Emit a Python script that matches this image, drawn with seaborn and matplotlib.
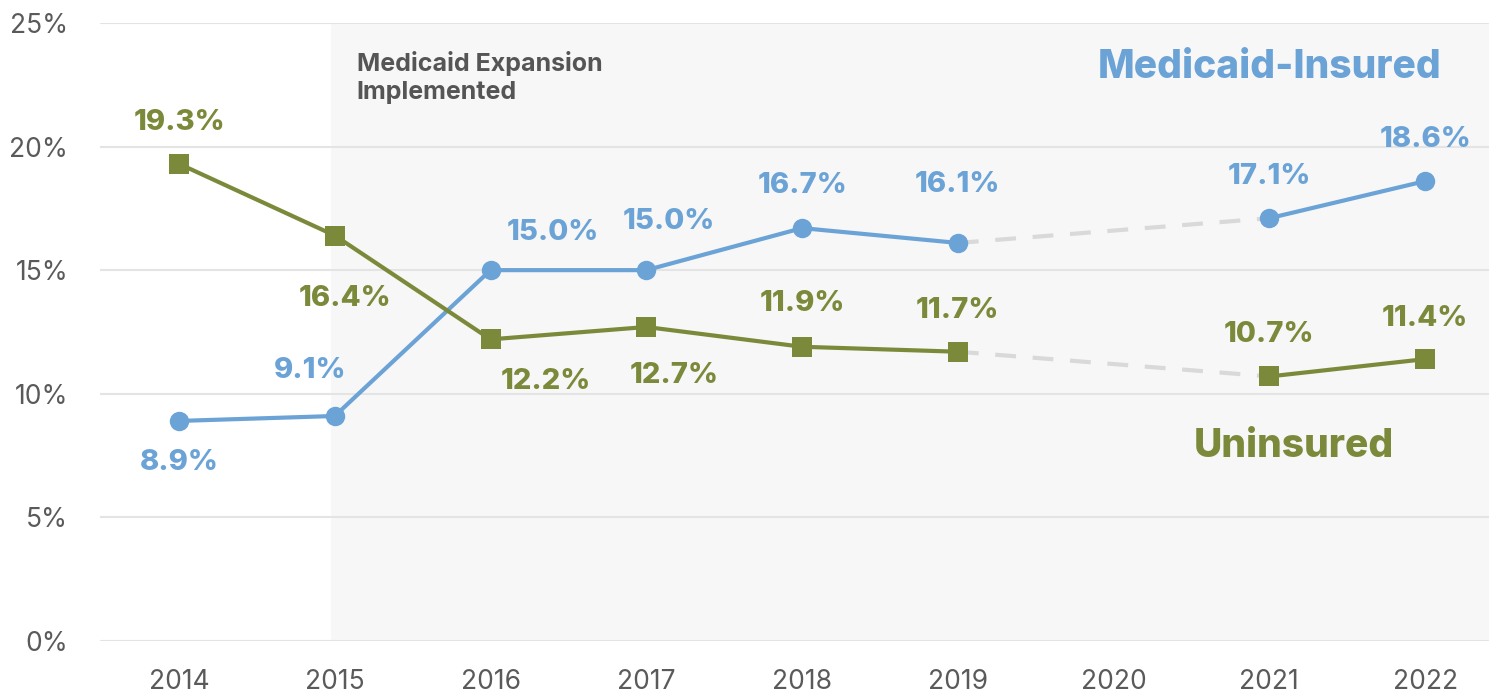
import pandas as pd
import numpy as np
import matplotlib.pyplot as plt
import seaborn as sns

# ==========================================
# Data
# ==========================================
years = ['2014', '2015', '2016', '2017', '2018', '2019', '2020', '2021', '2022']
medicaid = [8.9, 9.1, 15.0, 15.0, 16.7, 16.1, np.nan, 17.1, 18.6]
uninsured = [19.3, 16.4, 12.2, 12.7, 11.9, 11.7, np.nan, 10.7, 11.4]

BLUE = '#6CA3D7'
GREEN = '#7B8A3A'
GRAY_TXT = '#555555'

sns.set_style('white')
plt.rcParams['font.family'] = ['Inter', 'DejaVu Sans']

# long table: one row per point, segment id splits lines at the 2020 gap
rows = []
for name, vals in [('Medicaid-Insured', medicaid), ('Uninsured', uninsured)]:
    for i, v in enumerate(vals):
        if np.isnan(v):
            continue
        rows.append({'pos': i, 'value': v, 'series': name, 'seg': 0 if i < 6 else 1})
df = pd.DataFrame(rows)

# dashed connector across the missing year
bridge = df[df['pos'].isin([5, 7])]

fig = plt.figure(figsize=(14.89, 6.94), dpi=100)
ax = fig.add_axes([0.0672, 0.0764, 0.9328, 0.8906])

ax.axvspan(0.975, 8.6, color='#F7F7F7', zorder=0, lw=0)

sns.lineplot(data=bridge, x='pos', y='value', units='series', estimator=None,
             color='#D9D9D9', lw=3, ax=ax, zorder=1, legend=False)
ax.lines[-1].set_dashes([5, 4])
ax.lines[-2].set_dashes([5, 4])

sns.lineplot(data=df, x='pos', y='value', hue='series', style='series', units='seg',
             estimator=None, markers={'Medicaid-Insured': 'o', 'Uninsured': 's'},
             dashes=False, palette={'Medicaid-Insured': BLUE, 'Uninsured': GREEN},
             lw=3, markersize=14, markeredgewidth=0, ax=ax, zorder=3, legend=False)

# data labels (offsets in points)
med_off = [(0, -30), (-18, 33), (45, 27), (16, 35), (0, 31), (0, 42), None, (0, 30), (0, 30)]
uni_off = [(0, 30), (7, -45), (40, -30), (20, -35), (0, 31), (0, 30), None, (0, 30), (0, 29)]
for vals, offs, col in [(medicaid, med_off, BLUE), (uninsured, uni_off, GREEN)]:
    for i, (v, o) in enumerate(zip(vals, offs)):
        if o is None:
            continue
        ax.annotate(f'{v:.1f}%', (i, v), xytext=o, textcoords='offset points',
                    ha='center', va='center', fontsize=21, fontweight='heavy', color=col)

ax.text(1.14, 22.8, 'Medicaid Expansion\nImplemented', fontsize=18, fontweight='bold',
        color=GRAY_TXT, va='center', ha='left', linespacing=1.25)
ax.text(7.0, 23.2, 'Medicaid-Insured', fontsize=28, fontweight='heavy', color=BLUE,
        ha='center', va='center')
ax.text(7.16, 7.85, 'Uninsured', fontsize=28, fontweight='heavy', color=GREEN,
        ha='center', va='center')

ax.set_xlim(-0.507, 8.41)
ax.set_ylim(0, 25)
ax.set_xticks(range(len(years)))
ax.set_xticklabels(years)
ax.set_yticks([0, 5, 10, 15, 20, 25])
ax.set_yticklabels([f'{t}%' for t in [0, 5, 10, 15, 20, 25]])
ax.tick_params(axis='both', length=0, labelsize=19, labelcolor='#5A5A5A')
ax.tick_params(axis='x', pad=20)
ax.tick_params(axis='y', pad=23)
ax.yaxis.grid(True, color='#E4E4E4', lw=1.5, zorder=0.5)
ax.set_axisbelow(True)
ax.set_xlabel('')
ax.set_ylabel('')
for s in ax.spines.values():
    s.set_visible(False)

plt.savefig('out.png', dpi=100)
